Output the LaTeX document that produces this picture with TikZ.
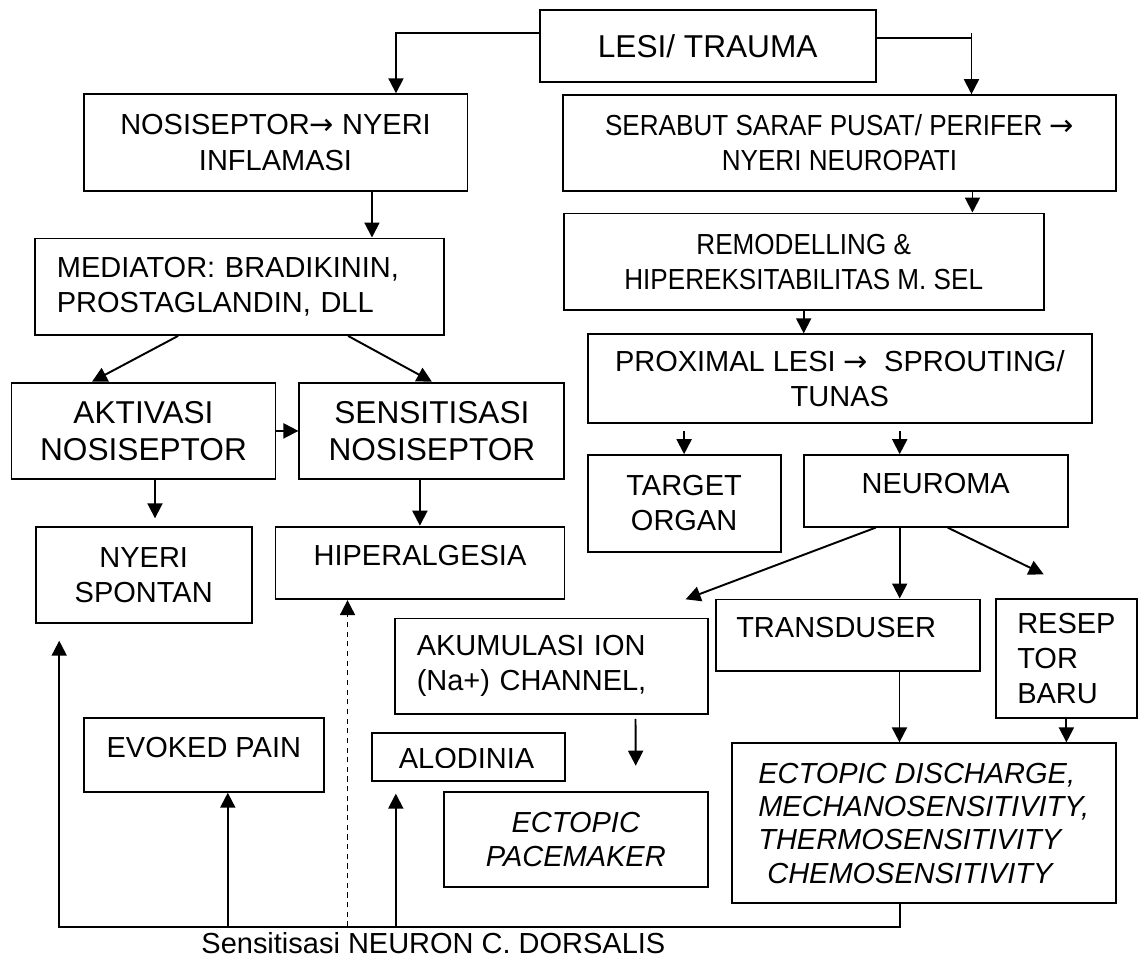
\documentclass[tikz,border=0pt]{standalone}
\usepackage{fontspec}
\setmainfont{Liberation Sans}
\newfontfamily\narrowfont[FakeStretch=0.9]{Liberation Sans}
\newfontfamily\arrowfont{DejaVu Sans}
\usetikzlibrary{arrows.meta}

\begin{document}
\begin{tikzpicture}[x=0.02cm, y=-0.02cm, line width=1.1pt,
    box/.style={draw, inner sep=0pt, align=center, font=\fontsize{16.5}{20}\selectfont},
    big/.style={font=\fontsize{18}{21}\selectfont},
    narrow/.style={font=\narrowfont\fontsize{16.5}{20}\selectfont},
    slant/.style={font=\itshape\fontsize{16.5}{19}\selectfont},
    raised/.style={text height=12pt, text depth=9pt},
    arr/.style={-{Triangle[length=0.3cm, width=0.3cm]}}]

  \useasboundingbox (0,0) rectangle (1139,958);

  % top and left branch
  \node[box, big, minimum width=6.72cm, minimum height=1.43cm] (lesi) at (707.7,45.9) {LESI/ TRAUMA};
  \node[box, minimum width=7.68cm, minimum height=1.93cm] (nosi) at (275.5,142.5) {NOSISEPTOR{\arrowfont →} NYERI\\INFLAMASI};
  \node[box, align=left, text width=7.31cm, inner xsep=0.43cm, minimum height=1.93cm] (mediator) at (239.6,286.7) {MEDIATOR: BRADIKININ,\\PROSTAGLANDIN, DLL};
  \node[box, big, minimum width=5.28cm, minimum height=1.93cm] (aktivasi) at (143.5,430.9) {AKTIVASI\\NOSISEPTOR};
  \node[box, big, minimum width=5.3cm, minimum height=1.93cm] (sensi) at (431.9,430.9) {SENSITISASI\\NOSISEPTOR};
  \node[box, minimum width=4.32cm, minimum height=1.93cm] (nyeri) at (143.7,575) {NYERI\\SPONTAN};
  \node[box, raised, minimum width=5.78cm, minimum height=1.45cm] (hiper) at (420,562.9) {HIPERALGESIA};

  % right branch
  \node[box, narrow, minimum width=11.05cm, minimum height=1.91cm] (serabut) at (839.5,142.9) {SERABUT SARAF PUSAT/ PERIFER {\arrowfont →}\\NYERI NEUROPATI};
  \node[box, narrow, minimum width=9.6cm, minimum height=1.93cm] (remodel) at (803.7,261.7) {REMODELLING \&\\HIPEREKSITABILITAS M. SEL};
  \node[box, minimum width=10.08cm, minimum height=1.78cm] (proximal) at (839.8,378.8) {PROXIMAL LESI {\arrowfont →}~ SPROUTING/\\TUNAS};
  \node[box, minimum width=3.86cm, minimum height=1.93cm] (target) at (684.1,503.4) {TARGET\\ORGAN};
  \node[box, raised, minimum width=5.28cm, minimum height=1.43cm] (neuroma) at (935.7,490.9) {NEUROMA};
  \node[box, raised, align=left, text width=4.47cm, inner xsep=0.41cm, minimum height=1.43cm] (trans) at (848,635.2) {TRANSDUSER};
  \node[box, align=left, minimum width=2.83cm, minimum height=2.38cm] (resep) at (1066.4,658.8) {RESEP\\TOR\\BARU};
  \node[box, align=left, text width=5.39cm, inner xsep=0.43cm, minimum height=1.91cm] (akum) at (551.5,666.2) {AKUMULASI ION\\(Na+) CHANNEL,};
  \node[box, slant, minimum width=5.28cm, minimum height=1.91cm] (pace) at (575.8,839.5) {ECTOPIC\\PACEMAKER};
  \node[box, slant, align=left, minimum width=7.68cm, minimum height=3.2cm] (ectopic) at (923.7,823.3) {ECTOPIC DISCHARGE,\\MECHANOSENSITIVITY,\\THERMOSENSITIVITY\\\hspace{0.18cm}CHEMOSENSITIVITY};

  % bottom row
  \node[box, raised, minimum width=4.81cm, minimum height=1.47cm] (evoked) at (203.8,755) {EVOKED PAIN};
  \node[box, minimum width=3.85cm, minimum height=0.97cm] (alodinia) at (468.3,756.9) {};
  \begin{scope}
    \clip (372,732.7) rectangle (564.5,767);
    \node[font=\fontsize{16.5}{20}\selectfont, inner sep=0pt] (alotext) at (466.5,759) {ALODINIA};
  \end{scope}
  \node[font=\fontsize{16.5}{20}\selectfont, inner sep=0pt] (dorsal) at (433.4,943.3) {Sensitisasi NEURON C. DORSALIS};

  \coordinate (ionend) at (685.6,599.3);
  \coordinate (resepend) at (1043.7,574.3);
  \coordinate (paceend) at (635.7,765.7);
  \coordinate (bus) at (433.4,926.7);

  % connectors
  \draw[arr] ([yshift=0.25cm]lesi.west) -| ([xshift=2.41cm]nosi.north);
  \draw[arr] ([yshift=0.16cm]lesi.east) -| ([xshift=2.64cm]serabut.north);
  \draw ([xshift=2.64cm]serabut.north) -- ++(0,-61.7);
  \draw[arr] ([xshift=1.93cm]nosi.south) -- ([xshift=1.93cm]nosi.south |- mediator.north);
  \draw[arr] ([xshift=2.66cm]serabut.south) -- ([xshift=2.66cm]serabut.south |- remodel.north);
  \draw[arr] (remodel.south) -- (remodel.south |- proximal.north);
  \draw[arr] ([xshift=-1.23cm]mediator.south) -- ([xshift=-1.03cm]aktivasi.north);
  \draw[arr] ([xshift=2.17cm]mediator.south) -- (sensi.north);
  \draw[arr] (aktivasi) -- (sensi);
  \draw[arr, shorten >=0.15cm] ([xshift=0.23cm]aktivasi.south) -- ([xshift=0.23cm]aktivasi.south |- nyeri.north);
  \draw[arr] ([xshift=-0.24cm]sensi.south) -- ([xshift=-0.24cm]sensi.south |- hiper.north);
  \draw[arr, shorten <=0.13cm] (target.north |- proximal.south) -- (target.north);
  \draw[arr, shorten <=0.13cm] ([xshift=-0.72cm]neuroma.north |- proximal.south) -- ([xshift=-0.72cm]neuroma.north);
  \draw[arr] ([xshift=-1.2cm]neuroma.south) -- (ionend);
  \draw[arr] ([xshift=-0.72cm]neuroma.south) -- ([xshift=-0.72cm]neuroma.south |- trans.north);
  \draw[arr] ([xshift=0.24cm]neuroma.south) -- (resepend);
  \draw[arr] ([xshift=1.03cm]trans.south) -- ([xshift=1.03cm]trans.south |- ectopic.north);
  \draw[arr] (resep.south) -- (resep.south |- ectopic.north);
  \draw[arr, shorten <=0.08cm] ([xshift=1.68cm]akum.south) -- (paceend);
  \draw[arr, shorten >=0.33cm] ([xshift=-0.48cm]ectopic.south) |- (bus) -| ([xshift=-1.69cm]nyeri.south);
  \draw[arr] ([xshift=0.48cm]evoked.south |- bus) -- ([xshift=0.48cm]evoked.south);
  \draw[arr, dash pattern=on 3pt off 2.5pt] ([xshift=-1.45cm]hiper.south |- bus) -- ([xshift=-1.45cm]hiper.south);
  \draw[arr, shorten >=0.23cm] ([xshift=-1.45cm]alodinia.south |- bus) -- ([xshift=-1.45cm]alodinia.south);
\end{tikzpicture}
\end{document}
